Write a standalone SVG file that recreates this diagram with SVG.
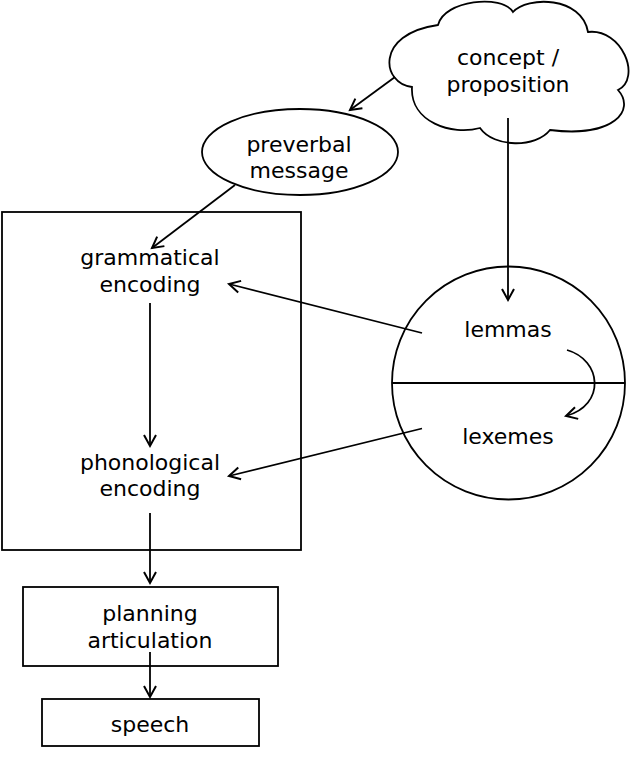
<svg xmlns="http://www.w3.org/2000/svg" width="630" height="759" viewBox="0 0 630 759">
<defs>
<marker id="arr" markerUnits="userSpaceOnUse" markerWidth="16" markerHeight="16" refX="12" refY="7" orient="auto" viewBox="0 0 16 14">
<path d="M1,1 L12,7 L1,13" fill="none" stroke="#000" stroke-width="2"/>
</marker>
</defs>
<style>
.shape{fill:#fff;stroke:#000;stroke-width:1.8}
.lbl{font-family:"DejaVu Sans",Verdana,sans-serif;font-size:22px;fill:#000;text-anchor:middle}
.edge{fill:none;stroke:#000;stroke-width:1.8}
.arrow{marker-end:url(#arr)}
</style>
<rect width="630" height="759" fill="#fff"/>
<g id="encoder">
<rect class="shape" x="2" y="212" width="299" height="338"/>
</g>
<g id="concept">
<path class="shape" d="M412,87 C382,84 374,34 438,25 C444,0 502,-6 513,12 C527,-4 582,-4 588,32 C622,28 642,78 618,90 C636,110 614,138 550,130 C536,148 494,148 480,128 C452,136 410,122 412,87 Z"/>
<text class="lbl" x="508" y="65">concept /</text>
<text class="lbl" x="508" y="92">proposition</text>
</g>
<g id="preverbal">
<ellipse class="shape" cx="300" cy="152" rx="98" ry="43"/>
<text class="lbl" x="299" y="152">preverbal</text>
<text class="lbl" x="299" y="178">message</text>
</g>
<g id="lexicon">
<circle class="shape" cx="508.5" cy="383" r="116.5"/>
<line class="edge" x1="392" y1="383" x2="625" y2="383"/>
<text class="lbl" x="508" y="337">lemmas</text>
<text class="lbl" x="508" y="444">lexemes</text>
</g>
<g id="grammatical">
<text class="lbl" x="150" y="265">grammatical</text>
<text class="lbl" x="150" y="292">encoding</text>
</g>
<g id="phonological">
<text class="lbl" x="150" y="470">phonological</text>
<text class="lbl" x="150" y="496">encoding</text>
</g>
<g id="planning">
<rect class="shape" x="23" y="587" width="255" height="79"/>
<text class="lbl" x="150" y="621">planning</text>
<text class="lbl" x="150" y="648">articulation</text>
</g>
<g id="speech">
<rect class="shape" x="42" y="699" width="217" height="47"/>
<text class="lbl" x="150" y="732">speech</text>
</g>
<g id="connectors">
<line class="edge arrow" x1="395" y1="77" x2="350" y2="110"/>
<line class="edge arrow" x1="508" y1="118" x2="508" y2="300"/>
<line class="edge arrow" x1="235" y1="185" x2="152" y2="248"/>
<line class="edge arrow" x1="422" y1="333" x2="229" y2="284"/>
<line class="edge arrow" x1="422" y1="428.5" x2="229" y2="476"/>
<line class="edge arrow" x1="150" y1="303" x2="150" y2="446"/>
<line class="edge arrow" x1="150" y1="513" x2="150" y2="583"/>
<line class="edge arrow" x1="150" y1="652" x2="150" y2="697"/>
<path class="edge arrow" d="M567,350 C602,360 606,405 566,416"/>
</g>
</svg>
